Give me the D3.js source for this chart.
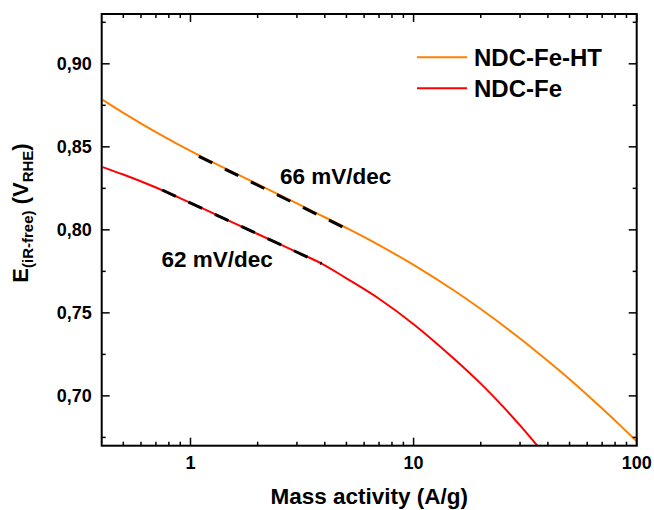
<!DOCTYPE html>
<html>
<head>
<meta charset="utf-8">
<script src="https://cdn.jsdelivr.net/npm/d3@7"></script>
<style>
  html, body { margin: 0; padding: 0; background: #fff; }
  svg text { font-family: Arial, "Liberation Sans", sans-serif; font-weight: bold; fill: #000; }
</style>
</head>
<body>
<svg id="chart" width="654" height="510"></svg>
<script>
// Tafel-type curves: mass activity (A/g) vs iR-free potential (V vs RHE)
const seriesNames = ["NDC-Fe-HT", "NDC-Fe"];
const seriesColors = ["#ff8000", "#ff0000"];

const htActivity = [0.404, 0.5, 0.7, 1.108, 1.5, 2, 3, 4, 5.18, 7, 10, 15, 20, 30, 40, 50, 70, 85, 100];
const htPotential = [0.8783, 0.8705, 0.8589, 0.8444, 0.8357, 0.8275, 0.8159, 0.8076, 0.8001, 0.7908, 0.7789, 0.7639, 0.7523, 0.7346, 0.7210, 0.7100, 0.6924, 0.6818, 0.6726];

const feActivity = [0.404, 0.5, 0.7, 0.902, 1.5, 2, 3, 3.87, 5, 7, 10, 15, 20, 25, 30, 36];
const fePotential = [0.8378, 0.8333, 0.8255, 0.8190, 0.8053, 0.7975, 0.7866, 0.7797, 0.7708, 0.7585, 0.7432, 0.7230, 0.7074, 0.6940, 0.6822, 0.6697];

// Tafel fits: start activity, end activity, potential at start, slope (mV/dec)
const fitStart = [1.09, 0.747];
const fitEnd = [5.08, 3.87];
const fitStartPotential = [0.8443, 0.8240];
const tafelSlopes = [66, 62];
const slopeLabels = ["66 mV/dec", "62 mV/dec"];

const xMajorTicks = [1, 10, 100];
const xTickLabels = ["1", "10", "100"];
const yMajorTicks = [0.70, 0.75, 0.80, 0.85, 0.90];
const yTickLabels = ["0,70", "0,75", "0,80", "0,85", "0,90"];

const svg = d3.select("#chart");
const W = 654, H = 510;
const margin = { left: 101.7, top: 14, right: W - 636.7, bottom: H - 445.7 };
const x0 = margin.left, x1 = W - margin.right, y0 = margin.top, y1 = H - margin.bottom;

const x = d3.scaleLog().domain([0.4, 100]).range([x0, x1]);
const y = d3.scaleLinear().domain([0.67, 0.93]).range([y1, y0]);

svg.append("defs").append("clipPath").attr("id", "plotClip")
  .append("rect").attr("x", x0).attr("y", y0).attr("width", x1 - x0).attr("height", y1 - y0);

const plot = svg.append("g").attr("clip-path", "url(#plotClip)");

const line = d3.line().x(d => x(d[0])).y(d => y(d[1])).curve(d3.curveCatmullRom.alpha(0.5));
const series = [
  d3.zip(htActivity, htPotential),
  d3.zip(feActivity, fePotential)
];

series.forEach((pts, i) => {
  plot.append("path").datum(pts)
    .attr("d", line)
    .attr("fill", "none")
    .attr("stroke", seriesColors[i])
    .attr("stroke-width", 2);
});

// dashed Tafel fit lines
fitStart.forEach((xs, i) => {
  const xe = fitEnd[i];
  const ys = fitStartPotential[i];
  const ye = ys - tafelSlopes[i] / 1000 * Math.log10(xe / xs);
  plot.append("line")
    .attr("x1", x(xs)).attr("y1", y(ys))
    .attr("x2", x(xe)).attr("y2", y(ye))
    .attr("stroke", "#000")
    .attr("stroke-width", 3)
    .attr("stroke-dasharray", "15,14");
});

// axes frame with inward ticks
const axisG = svg.append("g");
const majorLen = 8, minorLen = 4;

const xMinor = [];
[0.1, 1, 10].forEach(dec => {
  for (let k = 2; k <= 9; k++) {
    const v = +(dec * k).toFixed(3);
    if (v > 0.4 && v < 100) xMinor.push(v);
  }
});
const yMinor = d3.range(0.675, 0.93, 0.05).map(v => +v.toFixed(3));

function drawXTicks(yBase, dir) {
  xMajorTicks.forEach(v => axisG.append("line").attr("x1", x(v)).attr("x2", x(v)).attr("y1", yBase).attr("y2", yBase + dir * majorLen).attr("stroke", "#000").attr("stroke-width", 1.5));
  xMinor.forEach(v => axisG.append("line").attr("x1", x(v)).attr("x2", x(v)).attr("y1", yBase).attr("y2", yBase + dir * minorLen).attr("stroke", "#000").attr("stroke-width", 1.5));
}
function drawYTicks(xBase, dir) {
  yMajorTicks.forEach(v => axisG.append("line").attr("y1", y(v)).attr("y2", y(v)).attr("x1", xBase).attr("x2", xBase + dir * majorLen).attr("stroke", "#000").attr("stroke-width", 1.5));
  yMinor.forEach(v => axisG.append("line").attr("y1", y(v)).attr("y2", y(v)).attr("x1", xBase).attr("x2", xBase + dir * minorLen).attr("stroke", "#000").attr("stroke-width", 1.5));
}
drawXTicks(y1, -1);
drawXTicks(y0, 1);
drawYTicks(x0, 1);
drawYTicks(x1, -1);

axisG.append("rect").attr("x", x0).attr("y", y0).attr("width", x1 - x0).attr("height", y1 - y0)
  .attr("fill", "none").attr("stroke", "#000").attr("stroke-width", 2);

// tick labels
xMajorTicks.forEach((v, i) => {
  svg.append("text").attr("x", x(v)).attr("y", y1 + 23.5)
    .attr("text-anchor", "middle").attr("font-size", 18).text(xTickLabels[i]);
});
yMajorTicks.forEach((v, i) => {
  svg.append("text").attr("x", x0 - 10).attr("y", y(v) + 6.5)
    .attr("text-anchor", "end").attr("font-size", 18).text(yTickLabels[i]);
});

// axis titles
svg.append("text").attr("x", (x0 + x1) / 2).attr("y", 504)
  .attr("text-anchor", "middle").attr("font-size", 22.5).text("Mass activity (A/g)");

const yTitle = svg.append("text")
  .attr("transform", `translate(27.5, 213) rotate(-90)`)
  .attr("text-anchor", "middle").attr("font-size", 22);
yTitle.append("tspan").text("E");
yTitle.append("tspan").attr("font-size", 15).attr("dy", 5).text("(iR-free)");
yTitle.append("tspan").attr("dy", -5).text(" (V");
yTitle.append("tspan").attr("font-size", 15).attr("dy", 5).text("RHE");
yTitle.append("tspan").attr("dy", -5).text(")");

// slope annotations
const labelPos = [[280, 184], [161.5, 266.5]];
slopeLabels.forEach((t, i) => {
  svg.append("text").attr("x", labelPos[i][0]).attr("y", labelPos[i][1])
    .attr("font-size", 22.5).text(t);
});

// legend
const legendY = [57.3, 88.3];
seriesNames.forEach((name, i) => {
  svg.append("line").attr("x1", 417).attr("x2", 467).attr("y1", legendY[i]).attr("y2", legendY[i])
    .attr("stroke", seriesColors[i]).attr("stroke-width", 2);
  svg.append("text").attr("x", 474).attr("y", legendY[i] + 9)
    .attr("font-size", 24).text(name);
});
</script>
</body>
</html>
